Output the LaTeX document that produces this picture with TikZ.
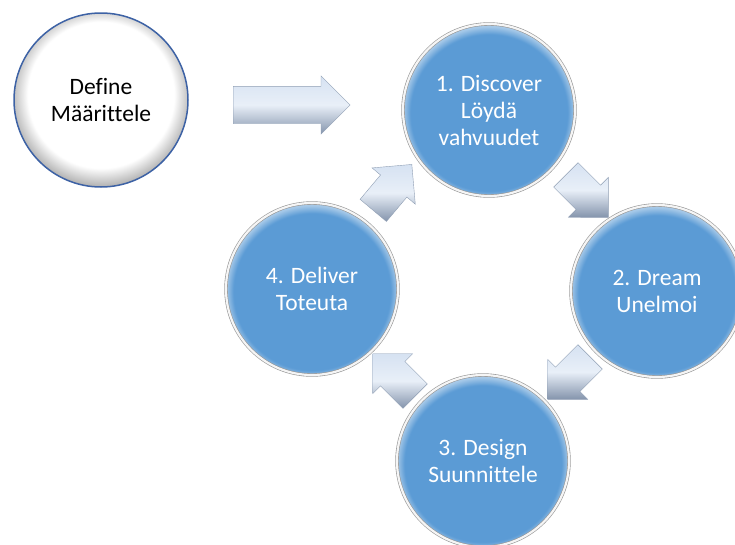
\documentclass[tikz,border=0pt]{standalone}
\usepackage{fontspec}
\setmainfont{Carlito}[Ligatures=NoCommon]
\usetikzlibrary{shapes.arrows}
\definecolor{discblue}{RGB}{91,155,213}
\definecolor{rimgray}{RGB}{150,150,150}
\definecolor{defblue}{RGB}{61,98,165}
\definecolor{steellight}{RGB}{214,226,242}
\definecolor{steeldark}{RGB}{132,148,172}
% rims of the discs
\pgfdeclareradialshading{discshade}{\pgfpoint{0bp}{-1.5bp}}{color(0bp)=(discblue); color(22.8bp)=(discblue); color(25bp)=(discblue!55!white); color(27bp)=(discblue!40!white); color(50bp)=(discblue!40!white)}
\pgfdeclareradialshading{defshade}{\pgfpoint{0bp}{2.5bp}}{color(0bp)=(white); color(21bp)=(white); color(26bp)=(black!30); color(50bp)=(black!30)}

\begin{document}
\begin{tikzpicture}[x=1pt, y=-1pt,
  disc/.style={circle, minimum size=172pt, shading=discshade, draw=rimgray, double=black!4, double distance=2.2pt, line width=0.6pt, text=white, align=center, font=\fontsize{23.5}{27}\selectfont},
  startdisc/.style={circle, minimum size=174pt, shading=defshade, draw=defblue, line width=1.5pt, align=center, font=\fontsize{23.5}{27}\selectfont},
  block/.style={single arrow, top color=steellight, bottom color=steeldark, middle color=white!45!steellight, draw=steeldark!90, line width=0.4pt, inner sep=17pt, single arrow head extend=11pt, minimum height=60pt}]
  \useasboundingbox (0,0) rectangle (735,544);

  \node[startdisc] (define) at (101,100) {Define\\Määrittele};
  \node[disc] (discover) at (489,110) {1. Discover\\Löydä\\vahvuudet};
  \node[disc] (dream) at (657,291) {2. Dream\\Unelmoi};
  \node[disc] (design) at (483,461) {3. Design\\Suunnittele};
  \node[disc] (deliver) at (312,289) {4. Deliver\\Toteuta};

  % block arrows
  \node[block, inner sep=18.5pt, single arrow head extend=10.5pt, minimum height=117pt, anchor=tail] (flowin) at (233,105) {};
  \node[block, rotate=-45] (flow12) at (581,190) {};
  \node[block, rotate=-135] (flow23) at (575,372) {};
  \node[block, rotate=135] (flow34) at (400,381) {};
  \node[block, rotate=50] (flow41) at (387,194) {};
\end{tikzpicture}
\end{document}
